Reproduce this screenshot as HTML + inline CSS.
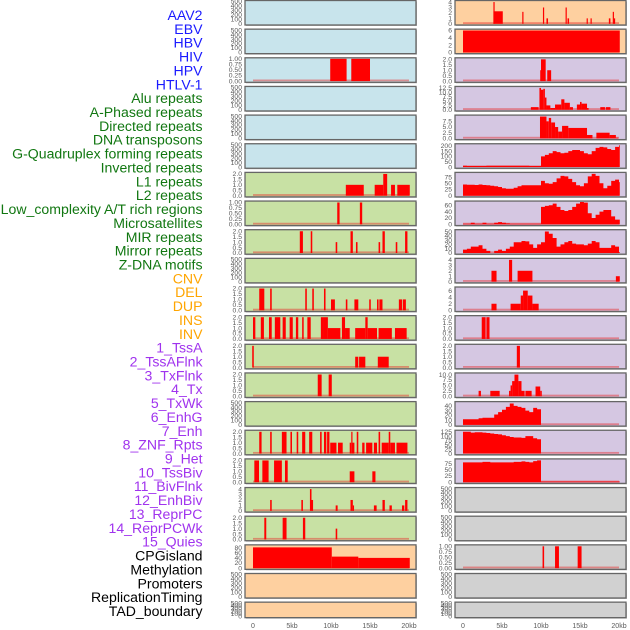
<!DOCTYPE html>
<html><head><meta charset="utf-8"><style>
html,body{margin:0;padding:0;background:#fff;}
svg{display:block;font-family:"Liberation Sans",sans-serif;}
</style></head><body>
<svg id="chart" width="630" height="630" viewBox="0 0 630 630"></svg>
<script>
// ---- data ----
const labels = ["AAV2","EBV","HBV","HIV","HPV","HTLV-1","Alu repeats","A-Phased repeats","Directed repeats","DNA transposons","G-Quadruplex forming repeats","Inverted repeats","L1 repeats","L2 repeats","Low_complexity A/T rich regions","Microsatellites","MIR repeats","Mirror repeats","Z-DNA motifs","CNV","DEL","DUP","INS","INV","1_TssA","2_TssAFlnk","3_TxFlnk","4_Tx","5_TxWk","6_EnhG","7_Enh","8_ZNF_Rpts","9_Het","10_TssBiv","11_BivFlnk","12_EnhBiv","13_ReprPC","14_ReprPCWk","15_Quies","CPGisland","Methylation","Promoters","ReplicationTiming","TAD_boundary"];
const labelGroups = ["b","b","b","b","b","b","g","g","g","g","g","g","g","g","g","g","g","g","g","o","o","o","o","o","p","p","p","p","p","p","p","p","p","p","p","p","p","p","p","k","k","k","k","k"];
const xTickValues = [0,5,10,15,20];
const xTickLabels = ["0","5kb","10kb","15kb","20kb"];

// segment series: [startKb, endKb, value]
const L_hiv = [[9.9,12.0,1],[12.6,15.0,1]];
const L_l1 = [[11.9,14.2,1],[15.6,16.7,1],[16.7,17.2,2],[17.7,18.2,1],[18.5,20.1,1]];
const L_l2 = [[10.8,11.1,1],[13.7,14.0,1]];
const L_low = [[6.0,6.4,2],[7.4,7.6,2],[10.6,10.8,1],[12.5,12.8,2],[13.2,13.4,1],[16.1,16.3,1],[16.6,16.9,2],[18.3,18.5,1],[19.5,19.8,2]];
const L_mir = [[0.8,1.45,2],[2.2,2.4,2],[6.7,6.9,2],[7.6,7.8,2],[9.1,9.3,2],[10.0,10.5,1],[11.9,12.1,1],[13.0,13.5,1],[14.9,15.1,1],[15.9,16.1,1],[16.2,16.6,1],[18.7,19.1,1],[19.2,19.6,1]];
const L_zdna = [[0.0,0.3,2],[1.0,1.4,2],[2.05,2.4,2],[2.8,3.5,2],[3.8,4.2,2],[4.7,5.1,2],[5.5,5.8,2],[6.3,6.5,2],[6.97,7.4,2],[8.7,9.1,2],[9.1,9.6,2],[9.6,11.2,1],[11.4,11.8,2],[11.8,12.4,1],[13.1,14.4,1],[14.4,14.7,2],[14.7,15.9,1],[16.1,17.8,1],[18.2,19.7,1]];
const L_del = [[-0.1,0.1,2],[13.1,13.5,1],[13.6,14.4,1],[16.0,17.4,1]];
const L_dup = [[8.3,8.8,2],[9.7,10.1,2]];
const L_inv = [[0.8,1.1,2],[2.2,2.4,2],[3.7,4.3,2],[4.8,5.0,2],[5.6,5.8,2],[6.3,6.7,2],[7.2,7.6,2],[8.6,8.8,2],[9.1,9.4,2],[9.5,9.8,2],[9.9,10.7,1],[10.9,11.5,1],[12.4,12.6,1],[12.6,12.7,2],[12.7,13.0,1],[13.3,13.5,2],[14.0,14.3,1],[14.5,15.3,1],[15.5,15.9,1],[16.1,16.3,2],[16.5,17.4,1],[17.4,17.6,2],[17.6,18.2,1],[18.4,19.8,1]];
const L_tssa = [[0.17,0.77,2],[1.2,2.0,2],[2.7,3.7,2],[4.1,4.45,2],[12.4,13.0,1],[15.3,15.7,1]];
const L_tssaf = [[2.2,2.4,2],[6.2,6.4,2],[7.3,7.5,4],[7.5,7.7,2],[10.6,10.85,1],[12.5,12.8,2],[12.8,12.9,1],[15.5,15.85,1],[16.6,16.9,2],[17.5,17.8,1],[19.1,19.4,1],[19.5,19.8,2]];
const L_txf = [[1.45,1.7,2],[3.8,4.3,2],[6.4,6.7,2],[10.6,10.8,1]];
const L_cpg = [[0,10.1,81],[10.1,13.5,45],[13.5,20.1,40]];
const R_aav = [[3.9,4.0,4],[3.9,5.1,2.3],[7.6,7.7,2.2],[10.25,10.4,3],[10.7,10.9,1],[13.15,13.3,3],[13.4,13.6,1],[15.85,16.0,1],[16.35,16.5,1],[18.7,18.9,1],[19.2,19.35,2.2],[19.35,19.5,1]];
const R_ebv = [[0,20.1,6]];
const R_hiv = [[9.9,10.0,1],[10.0,10.6,2],[10.8,11.3,1]];
const R_alu = [[8.7,9.7,1.5],[9.8,10.0,12.5],[10.0,10.3,11.5],[10.3,10.5,12],[10.5,10.7,7],[10.7,11.2,2.5],[11.2,11.8,1],[11.8,12.6,3],[12.6,13.0,6],[13.0,13.7,4],[13.7,14.1,1.5],[14.6,15.0,3],[15.0,15.2,4.5],[15.2,15.9,3.5],[15.9,16.1,1],[17.6,18.2,1.5],[18.3,18.9,1.5]];
const R_aph = [[9.87,10.7,9.6],[10.7,11.0,7.5],[11.0,11.3,9],[11.3,11.8,7],[11.8,12.2,5],[12.2,12.7,3],[12.7,13.5,5.5],[13.5,15.9,4.6],[15.9,16.6,1.5],[17.1,18.8,2.5],[18.8,19.6,1.5],[19.6,19.9,0.3]];
const R_mirror = [[3.65,4.3,2],[5.9,6.3,4],[7.0,8.9,2],[19.6,20.1,1]];
const R_zdna = [[3.65,4.3,2],[6.1,7.4,2],[7.4,7.7,4.5],[7.7,8.3,6],[8.3,8.9,4.5],[8.9,9.7,2]];
const R_cnv = [[2.4,2.9,2],[3.0,3.4,2]];
const R_del = [[6.9,7.3,2]];
const R_dup = [[2.0,2.3,2.5],[3.5,4.7,2.5],[5.9,6.1,2.5],[6.1,6.3,5],[6.3,6.6,7],[6.6,7.1,10],[7.1,7.5,7],[7.5,7.9,2.5],[8.0,8.8,2.5],[9.3,9.9,4.5],[9.9,10.1,2.5]];
const R_cpg = [[10.2,10.4,1],[11.8,12.3,1],[14.7,15.2,1]];

// binned series (0.5 kb bins starting at 0)
const R_gquad = [12,10,10,10,10,10,12,12,12,12,12,12,12,12,12,12,12,10,10,10,100,115,130,150,140,130,135,150,160,160,150,130,120,150,180,190,185,170,160,190,205];
const R_inv = [45,44,44,43,45,43,42,40,38,35,30,28,28,32,38,42,42,42,42,42,60,50,48,55,70,80,78,68,55,42,38,50,78,88,80,50,30,40,60,65,55];
const R_l1 = [2,2,5,2,2,5,2,2,5,7,5,3,2,2,2,2,2,2,2,2,55,58,60,65,55,45,42,45,55,65,70,68,35,20,30,40,45,45,25,15,15];
const R_l2 = [8,10,15,15,18,10,5,0,5,8,5,10,15,25,25,28,27,20,12,20,25,50,45,35,15,20,25,28,22,20,20,18,22,28,25,12,12,12,18,15,2];
const R_ins = [12,12,12,12,14,15,15,15,22,27,32,38,45,40,38,36,30,27,36,33,0,0,0,0,0,0,0,0,0,0,0,0,0,0,0,0,0,0,0,0,0];
const R_inv2 = [125,125,120,122,122,120,118,115,112,110,105,100,95,92,92,90,100,100,88,82,0,0,0,0,0,0,0,0,0,0,0,0,0,0,0,0,0,0,0,0,0];
const R_tssa = [80,80,80,80,80,82,82,80,80,80,80,80,80,82,82,84,82,80,85,88,3,3,3,3,3,3,3,3,3,3,3,3,3,3,3,3,3,3,3,3,3];

// tick label sets
const T500 = [0,100,200,300,400,500];
const T2 = [0,0.5,1,1.5,2];
const T1 = [0,0.25,0.5,0.75,1];
const T4 = [0,1,2,3,4];
const T6 = [0,2,4,6];
const T125 = [0,2.5,5,7.5,10,12.5];
const T75 = [0,2.5,5,7.5];
const T200 = [0,50,100,150,200];
const T75b = [0,25,50,75];
const T60 = [0,20,40,60];
const T50 = [0,10,20,30,40,50];
const T10 = [0,2.5,5,7.5,10];
const T40 = [0,10,20,30,40];
const T125b = [0,25,50,75,100,125];
const T80 = [0,20,40,60,80];

// panels: [column, row, bg, ymax, ticks, decimals, segs, bins, name]
const panels = [
 [0,0,'b',500,T500,0,null,null,'aav2'],[0,1,'b',500,T500,0,null,null,'ebv'],[0,2,'b',1.0,T1,2,L_hiv,null,'hiv'],
 [0,3,'b',500,T500,0,null,null,'alu'],[0,4,'b',500,T500,0,null,null,'a-phased'],[0,5,'b',500,T500,0,null,null,'g-quad'],
 [0,6,'g',2.05,T2,1,L_l1,null,'l1'],[0,7,'g',1.02,T1,2,L_l2,null,'l2'],[0,8,'g',2.05,T2,1,L_low,null,'low-complexity'],
 [0,9,'g',500,T500,0,null,null,'microsat'],[0,10,'g',2.05,T2,1,L_mir,null,'mir'],[0,11,'g',2.05,T2,1,L_zdna,null,'z-dna'],
 [0,12,'g',2.05,T2,1,L_del,null,'del'],[0,13,'g',2.05,T2,1,L_dup,null,'dup'],[0,14,'g',500,T500,0,null,null,'ins'],
 [0,15,'g',2.05,T2,1,L_inv,null,'inv'],[0,16,'g',2.05,T2,1,L_tssa,null,'tssa'],[0,17,'g',4.1,T4,0,L_tssaf,null,'tssaflnk'],
 [0,18,'g',2.05,T2,1,L_txf,null,'txflnk'],[0,19,'o',87,T80,0,L_cpg,null,'cpg'],[0,20,'o',500,T500,0,null,null,'methylation'],
 [0,21,'o',500,T500,0,null,null,'promoters'],
 [1,0,'o',4.1,T4,0,R_aav,null,'aav2'],[1,1,'o',6.1,T6,0,R_ebv,null,'ebv'],[1,2,'p',2.05,T2,1,R_hiv,null,'hiv'],
 [1,3,'p',12.8,T125,1,R_alu,null,'alu'],[1,4,'p',9.8,T75,1,R_aph,null,'a-phased'],[1,5,'p',210,T200,0,null,R_gquad,'g-quad'],
 [1,6,'p',90,T75b,0,null,R_inv,'inverted'],[1,7,'p',70,T60,0,null,R_l1,'l1'],[1,8,'p',52,T50,0,null,R_l2,'l2'],
 [1,9,'p',4.1,T4,0,R_mirror,null,'mirror'],[1,10,'p',6.8,T6,0,R_zdna,null,'z-dna'],[1,11,'p',2.05,T2,1,R_cnv,null,'cnv'],
 [1,12,'p',2.05,T2,1,R_del,null,'del'],[1,13,'p',10.3,T10,1,R_dup,null,'dup'],[1,14,'p',47,T40,0,null,R_ins,'ins'],
 [1,15,'p',128,T125b,0,null,R_inv2,'inv'],[1,16,'p',90,T75b,0,null,R_tssa,'tssa'],[1,17,'y',500,T500,0,null,null,'enh'],
 [1,18,'y',500,T500,0,null,null,'znf'],[1,19,'y',1.02,T1,2,R_cpg,null,'cpg'],[1,20,'y',500,T500,0,null,null,'methylation'],
 [1,21,'y',500,T500,0,null,null,'promoters']
];

// ---- rendering ----
const NS = 'http://www.w3.org/2000/svg';
const svg = document.getElementById('chart');
const BG = {b:'#c8e4ec', o:'#fed0a0', p:'#d5c7e2', g:'#c8e1a4', y:'#d1d1d1'};
const LC = {b:'#1a1aff', g:'#117711', o:'#ffa500', p:'#a033ee', k:'#000000'};
const colX = [245, 455];
const panelW = 171;
const zeroX = [253, 463];
const kbPx = 7.8;
function mk(tag, attrs, parent){const e=document.createElementNS(NS,tag);for(const k in attrs)e.setAttribute(k,attrs[k]);(parent||svg).appendChild(e);return e;}
function xScale(col, kb){return zeroX[col] + kb*kbPx;}
function rowTop(r){return r*28.65 + 0.5;}
function rowH(r){return r===21 ? 15.5 : 24.5;}

labels.forEach((t,i)=>{
  const e = mk('text',{x:202.5,y:15+i*13.86+5,'text-anchor':'end','font-size':'14.1',fill:LC[labelGroups[i]]});
  e.textContent = t;
  
  
});

panels.forEach(p=>{
  const [col,row,bg,ymax,ticks,dec,segs,bins,name] = p;
  const top = rowTop(row), h = rowH(row), left = colX[col];
  const g = mk('g',{});
  
  
  mk('rect',{x:left+1,y:top+1,width:panelW,height:h,fill:'#bbbbbb'},g);
  mk('rect',{x:left,y:top,width:panelW,height:h,fill:BG[bg],stroke:'#666',"stroke-width":1.3},g);
  const bottom = top + h - 1.2;
  const plotH = h - 2.2;
  const yS = v => bottom - v/ymax*plotH;
  ticks.forEach(tv=>{
    const t = mk('text',{x:left-3,y:yS(tv)+2.2,'text-anchor':'end','font-size':'6.8',fill:'#5a5a5a'},g);
    t.textContent = tv.toFixed(dec);
    
    
  });
  if(segs||bins){
    const base = mk('rect',{x:xScale(col,0),y:bottom-1.6,width:xScale(col,20)-xScale(col,0),height:1.8,fill:'rgba(230,40,40,0.45)'},g);
    
    
  }
  if(segs){
    segs.forEach(s=>{
      const x1 = Math.max(left+1, xScale(col,s[0])), x2 = xScale(col,s[1]);
      const r = mk('rect',{x:x1,y:yS(s[2]),width:Math.max(1.2,x2-x1),height:bottom-yS(s[2]),fill:'#ff0000'},g);
      
      
    });
  }
  if(bins){
    let d = 'M'+xScale(col,0)+','+bottom;
    bins.forEach((v,i)=>{
      const a = i*0.5, b = Math.min(20.1,i*0.5+0.5);
      d += ' L'+xScale(col,a)+','+yS(v)+' L'+xScale(col,b)+','+yS(v);
    });
    d += ' L'+xScale(col,20.1)+','+bottom+' Z';
    const pa = mk('path',{d:d,fill:'#ff0000'},g);
    
    
  }
});

[0,1].forEach(col=>{
  xTickValues.forEach((v,i)=>{
    const t = mk('text',{x:xScale(col,v),y:628,'text-anchor':'middle','font-size':'7',fill:'#5a5a5a'});
    t.textContent = xTickLabels[i];
    
    
  });
});
</script>
</body></html>
